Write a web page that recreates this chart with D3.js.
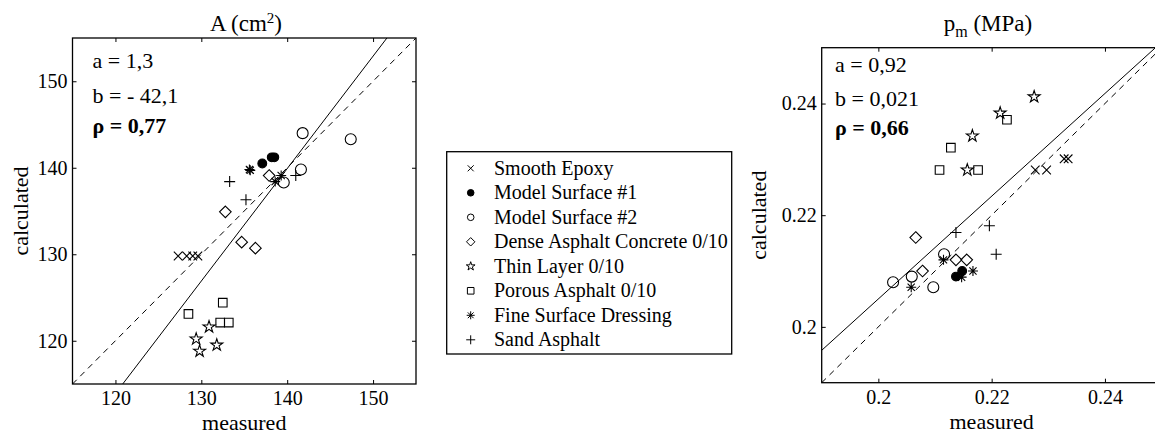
<!DOCTYPE html>
<html>
<head>
<meta charset="utf-8">
<script src="https://cdn.jsdelivr.net/npm/d3@7"></script>
<style>
  html, body { margin: 0; padding: 0; background: #fff; }
  svg { display: block; }
  text { font-family: "Liberation Serif", "Times New Roman", serif; fill: #000; }
</style>
</head>
<body>
<svg id="chart" width="1155" height="440"></svg>
<script>
// ---------- data ----------
const seriesNames = ["Smooth Epoxy", "Model Surface #1", "Model Surface #2",
  "Dense Asphalt Concrete 0/10", "Thin Layer 0/10", "Porous Asphalt 0/10",
  "Fine Surface Dressing", "Sand Asphalt"];

// Left panel: A (cm2)  [measured, calculated]
const aSmoothEpoxy = [[127.3,129.8],[128.3,129.8],[129.0,129.8],[129.6,129.8]];
const aModel1      = [[137.1,140.5],[138.2,141.2],[138.5,141.2]];
const aModel2      = [[141.8,144.0],[147.4,143.3],[141.6,139.8],[139.6,138.3]];
const aDense       = [[132.8,134.9],[137.9,139.1],[134.7,131.4],[136.3,130.7]];
const aThin        = [[130.9,121.6],[129.4,120.2],[129.8,118.8],[131.8,119.5]];
const aPorous      = [[128.5,123.1],[132.5,124.4],[132.2,122.1],[133.2,122.1]];
const aFine        = [[135.6,139.8],[135.7,139.7],[139.3,139.1],[138.6,138.4]];
const aSand        = [[133.3,138.4],[135.2,136.3],[141.0,139.1]];

// Right panel: p_m (MPa)
const pSmoothEpoxy = [[0.2277,0.2281],[0.2297,0.2281],[0.2328,0.2301],[0.2335,0.2301]];
const pModel1      = [[0.2137,0.2090],[0.2148,0.2100]];
const pModel2      = [[0.2026,0.2080],[0.2059,0.2090],[0.2097,0.2071],[0.2116,0.2130]];
const pDense       = [[0.2066,0.2160],[0.2137,0.2120],[0.2156,0.2120],[0.2078,0.2100]];
const pThin        = [[0.2275,0.2412],[0.2215,0.2383],[0.2166,0.2342],[0.2157,0.2281]];
const pPorous      = [[0.2227,0.2371],[0.2128,0.2321],[0.2108,0.2281],[0.2176,0.2281]];
const pFine        = [[0.2058,0.2071],[0.2115,0.2120],[0.2167,0.2100],[0.2147,0.2089]];
const pSand        = [[0.2137,0.2169],[0.2196,0.2181],[0.2208,0.2130]];

const aDomain = [115, 155];
const pDomain = [0.19, 0.25];
const aTicks = [120, 130, 140, 150];
const pTicks = [0.2, 0.22, 0.24];
const pTickLabels = ["0.2", "0.22", "0.24"];
// regression: calculated = slope*measured + intercept
const aFit = {slope: 1.3, intercept: -42.1};
const pFit = {slope: 0.92, intercept: 0.021};
const aNotes = ["a = 1,3", "b = - 42,1", "ρ = 0,77"];
const pNotes = ["a = 0,92", "b = 0,021", "ρ = 0,66"];

// ---------- drawing ----------
const svg = d3.select("#chart");
const kinds = ["x", "dot", "circle", "diamond", "star", "square", "asterisk", "plus"];

function markerPath(kind, s) {
  switch (kind) {
    case "x": return `M${-s},${-s}L${s},${s}M${-s},${s}L${s},${-s}`;
    case "plus": return `M${-s},0H${s}M0,${-s}V${s}`;
    case "asterisk": { const d = s * 0.72;
      return `M${-s},0H${s}M0,${-s}V${s}M${-d},${-d}L${d},${d}M${-d},${d}L${d},${-d}`; }
    case "diamond": return `M0,${-s}L${s},0L0,${s}L${-s},0Z`;
    case "square": return `M${-s},${-s}H${s}V${s}H${-s}Z`;
    case "circle":
    case "dot": return d3.symbol(d3.symbolCircle, Math.PI * s * s)();
    case "star": return d3.symbol(d3.symbolStar, (s * s) / 0.8908130915292852)();
  }
}
const plotSize = {x: 4.3, dot: 4.4, circle: 5.5, diamond: 5.8, star: 6.3, square: 4.3, asterisk: 5, plus: 5.5};
const legSize  = {x: 3, dot: 3.3, circle: 3.3, diamond: 4.2, star: 4.6, square: 3.3, asterisk: 4, plus: 4.5};

function drawPanel(cfg) {
  const x = d3.scaleLinear().domain(cfg.domain).range([cfg.left, cfg.right]);
  const y = d3.scaleLinear().domain(cfg.domain).range([cfg.bottom, cfg.top]);
  const g = svg.append("g");
  const clipId = "clip" + cfg.id;
  g.append("clipPath").attr("id", clipId).append("rect")
    .attr("x", cfg.left).attr("y", cfg.top)
    .attr("width", cfg.right - cfg.left).attr("height", cfg.bottom - cfg.top);

  const fmt = cfg.labels ? (d, i) => cfg.labels[i] : d3.format("d");
  const axStyle = sel => {
    sel.attr("font-family", null).attr("font-size", null);
    sel.selectAll("text").style("font-family", "Liberation Serif").style("font-size", "20px").attr("fill", "#000");
    sel.selectAll("line").attr("stroke", "#000");
    sel.select(".domain").remove();
  };
  g.append("g").attr("transform", `translate(0,${cfg.bottom})`)
    .call(d3.axisBottom(x).tickValues(cfg.ticks).tickFormat(fmt).tickSizeInner(-4).tickSizeOuter(0).tickPadding(7))
    .call(axStyle);
  g.append("g").attr("transform", `translate(${cfg.left},0)`)
    .call(d3.axisLeft(y).tickValues(cfg.ticks).tickFormat(fmt).tickSizeInner(-4).tickSizeOuter(0).tickPadding(5))
    .call(axStyle);
  g.append("g").attr("transform", `translate(0,${cfg.top})`)
    .call(d3.axisTop(x).tickValues(cfg.ticks).tickFormat("").tickSizeInner(-4).tickSizeOuter(0))
    .call(axStyle);
  g.append("g").attr("transform", `translate(${cfg.right},0)`)
    .call(d3.axisRight(y).tickValues(cfg.ticks).tickFormat("").tickSizeInner(-4).tickSizeOuter(0))
    .call(axStyle);

  const lg = g.append("g").attr("clip-path", `url(#${clipId})`);
  const [d0, d1] = cfg.domain;
  lg.append("line").attr("x1", x(d0)).attr("y1", y(d0)).attr("x2", x(d1)).attr("y2", y(d1))
    .attr("stroke", "#000").attr("stroke-width", 1).attr("stroke-dasharray", "6,5");
  lg.append("line")
    .attr("x1", x(d0)).attr("y1", y(cfg.fit.slope * d0 + cfg.fit.intercept))
    .attr("x2", x(d1)).attr("y2", y(cfg.fit.slope * d1 + cfg.fit.intercept))
    .attr("stroke", "#000").attr("stroke-width", 1);

  const mg = g.append("g").attr("clip-path", `url(#${clipId})`);
  cfg.series.forEach((pts, i) => {
    const k = kinds[i];
    mg.selectAll(null).data(pts).enter().append("path")
      .attr("transform", d => `translate(${x(d[0])},${y(d[1])})`)
      .attr("d", markerPath(k, plotSize[k]))
      .attr("fill", k === "dot" ? "#000" : "none")
      .attr("stroke", "#000").attr("stroke-width", 1.1);
  });

  g.append("rect").attr("x", cfg.left).attr("y", cfg.top)
    .attr("width", cfg.right - cfg.left).attr("height", cfg.bottom - cfg.top)
    .attr("fill", "none").attr("stroke", "#000").attr("stroke-width", 1.3);

  cfg.notes.forEach((t, i) => {
    g.append("text").attr("x", cfg.noteX).attr("y", cfg.noteY[i])
      .style("font-size", "22px").style("font-weight", i === 2 ? "bold" : "normal").text(t);
  });

  g.append("text").attr("x", (cfg.left + cfg.right) / 2).attr("y", cfg.bottom + 46)
    .attr("text-anchor", "middle").style("font-size", "22px").text("measured");
  g.append("text").attr("transform", `translate(${cfg.ylabX},${(cfg.top + cfg.bottom) / 2}) rotate(-90)`)
    .attr("text-anchor", "middle").style("font-size", "22px").text("calculated");
  const title = g.append("text").attr("x", cfg.titleX).attr("y", 31)
    .attr("text-anchor", "middle").style("font-size", "23px");
  cfg.title(title);
}

drawPanel({
  id: "A", domain: aDomain, ticks: aTicks, labels: null, fit: aFit,
  left: 72.5, right: 416, top: 38, bottom: 384,
  series: [aSmoothEpoxy, aModel1, aModel2, aDense, aThin, aPorous, aFine, aSand],
  notes: aNotes, noteX: 92.5, noteY: [68, 103, 133], ylabX: 28, titleX: 246,
  title: t => { t.append("tspan").text("A (cm");
    t.append("tspan").attr("dy", -8).style("font-size", "15px").text("2");
    t.append("tspan").attr("dy", 8).text(")"); }
});

drawPanel({
  id: "P", domain: pDomain, ticks: pTicks, labels: pTickLabels, fit: pFit,
  left: 821.7, right: 1161.6, top: 47.7, bottom: 382.7,
  series: [pSmoothEpoxy, pModel1, pModel2, pDense, pThin, pPorous, pFine, pSand],
  notes: pNotes, noteX: 835, noteY: [72, 106, 135], ylabX: 766, titleX: 988,
  title: t => { t.append("tspan").text("p");
    t.append("tspan").attr("dy", 6).style("font-size", "16px").text("m");
    t.append("tspan").attr("dy", -6).text(" (MPa)"); }
});

// legend
const leg = svg.append("g");
leg.append("rect").attr("x", 446.7).attr("y", 151.7).attr("width", 285).attr("height", 202.3)
  .attr("fill", "#fff").attr("stroke", "#000").attr("stroke-width", 1.3);
seriesNames.forEach((name, i) => {
  const k = kinds[i];
  const cy = 168.3 + i * 24.5;
  leg.append("path").attr("transform", `translate(470.7,${cy})`)
    .attr("d", markerPath(k, legSize[k]))
    .attr("fill", k === "dot" ? "#000" : "none").attr("stroke", "#000").attr("stroke-width", 1);
  leg.append("text").attr("x", 494).attr("y", cy + 6.5).style("font-size", "20px").text(name);
});
</script>
</body>
</html>
